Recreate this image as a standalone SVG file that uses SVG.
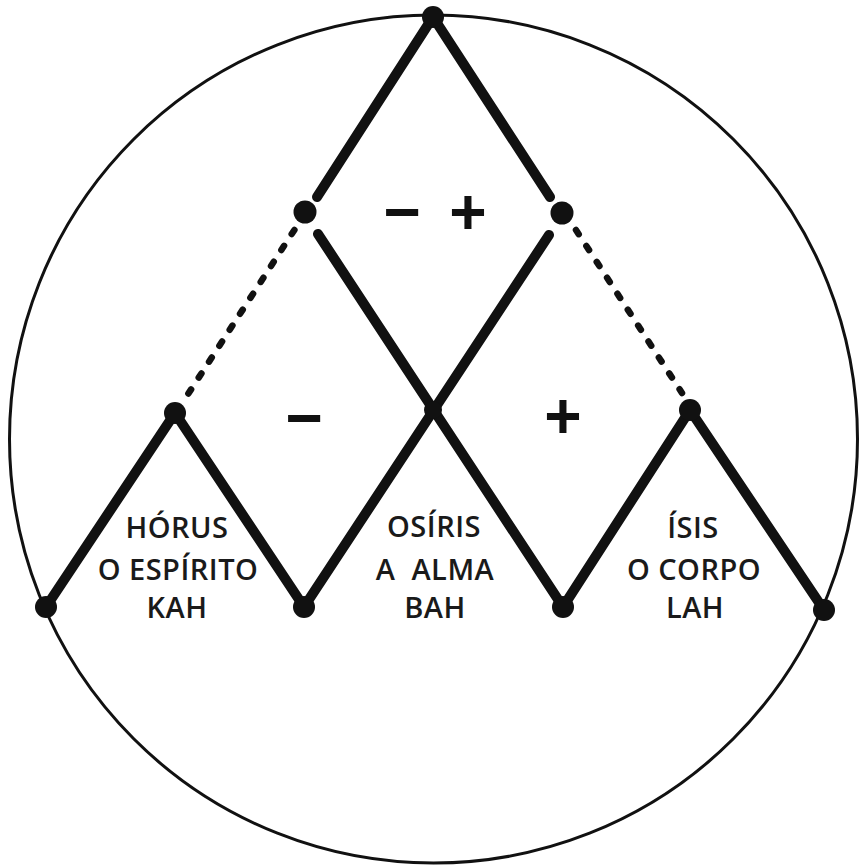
<svg xmlns="http://www.w3.org/2000/svg" width="860" height="867" viewBox="0 0 860 867">
<style>
.thick{stroke:#111;stroke-width:10;stroke-linecap:round;fill:none}
.dot{stroke:#111;stroke-width:6.5;stroke-dasharray:5 14;stroke-linecap:round;fill:none}
.node{fill:#111}
.lbl{font-family:"Open Sans","Noto Sans",sans-serif;font-weight:600;font-size:29px;fill:#1a1a1a;text-anchor:middle;letter-spacing:0.5px}
.sign{font-family:"Liberation Sans",Arial,sans-serif;font-weight:bold;font-size:64px;fill:#111;text-anchor:middle}
</style>
<rect width="860" height="867" fill="#fff"/>
<circle id="outer" cx="433.5" cy="439" r="424" fill="none" stroke="#111" stroke-width="3"/>
<g id="connectors">
<line class="thick" x1="433" y1="17" x2="317" y2="197"/>
<line class="thick" x1="433" y1="17" x2="550" y2="197"/>
<line class="thick" x1="318" y1="234" x2="563" y2="607"/>
<line class="thick" x1="549" y1="235" x2="304" y2="607"/>
<line class="dot" x1="294.4" y1="229.9" x2="188.3" y2="393.7"/>
<line class="dot" x1="576" y1="230" x2="682" y2="393"/>
<polyline class="thick" points="46,607 175,413 304,607"/>
<polyline class="thick" points="563,607 690,410 824,610"/>
</g>
<g id="n-top"><circle class="node" cx="433" cy="17" r="11"/></g>
<g id="n-midleft"><circle class="node" cx="305" cy="212" r="11.5"/></g>
<g id="n-midright"><circle class="node" cx="562" cy="213" r="11.5"/></g>
<g id="n-center"><circle class="node" cx="433" cy="410" r="9"/></g>
<g id="n-peakleft"><circle class="node" cx="175" cy="413" r="11"/></g>
<g id="n-peakright"><circle class="node" cx="690" cy="410" r="11"/></g>
<g id="n-b1"><circle class="node" cx="46" cy="607" r="11"/></g>
<g id="n-b2"><circle class="node" cx="304" cy="607" r="11"/></g>
<g id="n-b3"><circle class="node" cx="563" cy="607" r="11"/></g>
<g id="n-b4"><circle class="node" cx="824" cy="610" r="11"/></g>
<g id="signs">
<text class="sign" x="402" y="234">−</text>
<text class="sign" x="468" y="234">+</text>
<text class="sign" x="304" y="440">−</text>
<text class="sign" x="563" y="438">+</text>
</g>
<g id="horus">
<text class="lbl" x="177" y="538">HÓRUS</text>
<text class="lbl" x="178" y="580">O ESPÍRITO</text>
<text class="lbl" x="177" y="618">KAH</text>
</g>
<g id="osiris">
<text class="lbl" x="434" y="537">OSÍRIS</text>
<text class="lbl" x="435" y="580" xml:space="preserve">A  ALMA</text>
<text class="lbl" x="435" y="618">BAH</text>
</g>
<g id="isis">
<text class="lbl" x="693" y="538">ÍSIS</text>
<text class="lbl" x="694" y="580">O CORPO</text>
<text class="lbl" x="695" y="618">LAH</text>
</g>
</svg>
